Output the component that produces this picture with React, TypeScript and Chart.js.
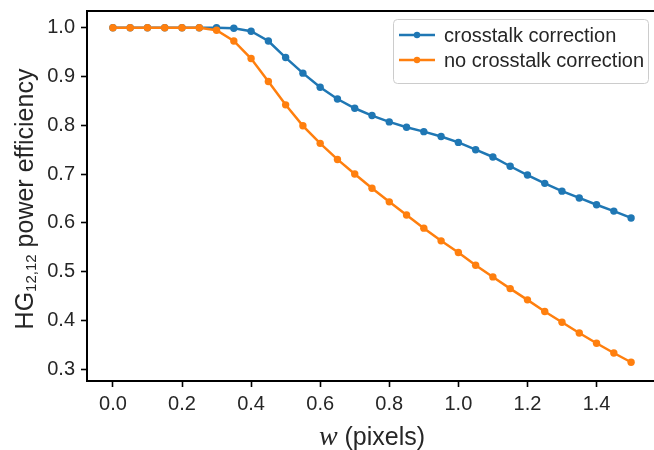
import React, { useEffect, useRef } from "react";
import { Chart, registerables } from "chart.js";

Chart.register(...registerables);

const W_VALUES = [0, 0.05, 0.1, 0.15, 0.2, 0.25, 0.3, 0.35, 0.4, 0.45, 0.5, 0.55, 0.6, 0.65, 0.7, 0.75, 0.8, 0.85, 0.9, 0.95, 1.0, 1.05, 1.1, 1.15, 1.2, 1.25, 1.3, 1.35, 1.4, 1.45, 1.5];
const CROSSTALK_CORRECTION = [1.0, 1.0, 1.0, 1.0, 1.0, 1.0, 1.0, 0.999, 0.993, 0.973, 0.939, 0.907, 0.878, 0.854, 0.835, 0.82, 0.807, 0.796, 0.787, 0.777, 0.765, 0.75, 0.735, 0.716, 0.698, 0.681, 0.665, 0.651, 0.637, 0.624, 0.61];
const NO_CROSSTALK_CORRECTION = [1.0, 1.0, 1.0, 1.0, 1.0, 1.0, 0.995, 0.973, 0.937, 0.89, 0.842, 0.799, 0.763, 0.73, 0.7, 0.671, 0.643, 0.616, 0.589, 0.563, 0.539, 0.513, 0.489, 0.465, 0.442, 0.418, 0.396, 0.374, 0.353, 0.333, 0.314];
const SERIES_LABELS = ["crosstalk correction", "no crosstalk correction"];
const X_TICKS = [0.0, 0.2, 0.4, 0.6, 0.8, 1.0, 1.2, 1.4];
const Y_TICKS = [0.3, 0.4, 0.5, 0.6, 0.7, 0.8, 0.9, 1.0];

const BLUE = "#1f77b4";
const ORANGE = "#ff7f0e";
const TEXT = "#262626";
const SANS = '"Liberation Sans", Arial, sans-serif';
const TICK_SIZE = 20;
const LABEL_SIZE = 25;

const decor = {
  id: "decor",
  afterDraw(chart: any) {
    const { ctx, chartArea } = chart;
    const { left, right, top, bottom } = chartArea;
    ctx.save();
    // top & right spines
    ctx.strokeStyle = "#000";
    ctx.lineWidth = 2;
    ctx.beginPath();
    ctx.moveTo(left - 1, top);
    ctx.lineTo(right, top);
    ctx.lineTo(right, bottom);
    ctx.stroke();

    // y label
    ctx.fillStyle = TEXT;
    ctx.textBaseline = "alphabetic";
    const cy = (top + bottom) / 2 + 3;
    const mainFont = `${LABEL_SIZE}px ${SANS}`;
    const subFont = `${Math.round(LABEL_SIZE * 0.6)}px ${SANS}`;
    ctx.font = mainFont;
    const wHG = ctx.measureText("HG").width;
    const wRest = ctx.measureText(" power efficiency").width;
    ctx.font = subFont;
    const wSub = ctx.measureText("12,12").width;
    const total = wHG + wSub + wRest;
    ctx.translate(33, cy);
    ctx.rotate(-Math.PI / 2);
    let x0 = -total / 2;
    ctx.font = mainFont;
    ctx.textAlign = "left";
    ctx.fillText("HG", x0, 0);
    x0 += wHG;
    ctx.font = subFont;
    ctx.fillText("12,12", x0, 3);
    x0 += wSub;
    ctx.font = mainFont;
    ctx.fillText(" power efficiency", x0, 0);
    ctx.setTransform(1, 0, 0, 1, 0, 0);

    // x label
    const cx = (left + right) / 2;
    const italFont = `italic ${LABEL_SIZE + 3}px "Liberation Serif", "DejaVu Serif", serif`;
    ctx.font = italFont;
    const ww = ctx.measureText("w").width;
    ctx.font = mainFont;
    const wp = ctx.measureText(" (pixels)").width;
    const xs = cx - (ww + wp) / 2;
    const by = 445;
    ctx.font = italFont;
    ctx.fillText("w", xs, by);
    ctx.font = mainFont;
    ctx.fillText(" (pixels)", xs + ww, by);

    // legend
    const lx = 393, ly = 19, lw = 255, lh = 64;
    ctx.beginPath();
    (ctx as any).roundRect(lx + 0.5, ly + 0.5, lw, lh, 4);
    ctx.fillStyle = "rgba(255,255,255,0.8)";
    ctx.fill();
    ctx.strokeStyle = "#cccccc";
    ctx.lineWidth = 1;
    ctx.stroke();
    const colors = [BLUE, ORANGE];
    const rows = [35, 60];
    ctx.font = `${TICK_SIZE}px ${SANS}`;
    ctx.textBaseline = "middle";
    for (let i = 0; i < 2; i++) {
      const y = rows[i];
      ctx.strokeStyle = colors[i];
      ctx.lineWidth = 2.5;
      ctx.beginPath();
      ctx.moveTo(399, y);
      ctx.lineTo(435, y);
      ctx.stroke();
      ctx.fillStyle = colors[i];
      ctx.beginPath();
      ctx.arc(417, y, 3.2, 0, Math.PI * 2);
      ctx.fill();
      ctx.fillStyle = TEXT;
      ctx.fillText(SERIES_LABELS[i], 444, y + 1);
    }
    ctx.restore();
  },
};

export default function App() {
  const ref = useRef<HTMLCanvasElement>(null);
  useEffect(() => {
    const canvas = ref.current!;
    const axisCommon = {
      type: "linear" as const,
      grid: {
        display: true,
        drawOnChartArea: false,
        drawTicks: true,
        tickLength: 6,
        tickWidth: 1.6,
        tickColor: "#000",
      },
      border: { display: true, color: "#000", width: 2 },
    };
    const chart = new Chart(canvas, {
      type: "line",
      data: {
        datasets: [
          {
            label: SERIES_LABELS[0],
            data: W_VALUES.map((x, i) => ({ x, y: CROSSTALK_CORRECTION[i] })),
            borderColor: BLUE,
            backgroundColor: BLUE,
            borderWidth: 2.5,
            pointRadius: 3.7,
            pointBorderWidth: 0,
            pointBackgroundColor: BLUE,
            order: 1,
          },
          {
            label: SERIES_LABELS[1],
            data: W_VALUES.map((x, i) => ({ x, y: NO_CROSSTALK_CORRECTION[i] })),
            borderColor: ORANGE,
            backgroundColor: ORANGE,
            borderWidth: 2.5,
            pointRadius: 3.7,
            pointBorderWidth: 0,
            pointBackgroundColor: ORANGE,
            order: 0,
          },
        ],
      },
      options: {
        animation: false,
        responsive: false,
        maintainAspectRatio: false,
        devicePixelRatio: 1,
        layout: { padding: { left: 0, top: 11, right: 5, bottom: 0 } },
        plugins: { legend: { display: false }, tooltip: { enabled: false } },
        scales: {
          x: {
            ...axisCommon,
            min: -0.075,
            max: 1.575,
            afterBuildTicks: (s: any) => {
              s.ticks = X_TICKS.map((v) => ({ value: v }));
            },
            afterFit: (s: any) => {
              s.height = 69;
              s.paddingLeft = 0;
              s.paddingRight = 0;
            },
            ticks: {
              autoSkip: false,
              maxRotation: 0,
              color: TEXT,
              padding: 5,
              font: { size: TICK_SIZE, family: SANS },
              callback: (v: any) => Number(v).toFixed(1),
            },
          },
          y: {
            ...axisCommon,
            min: 0.2755,
            max: 1.0345,
            afterBuildTicks: (s: any) => {
              s.ticks = Y_TICKS.map((v) => ({ value: v }));
            },
            afterFit: (s: any) => {
              s.width = 87;
              s.paddingTop = 0;
              s.paddingBottom = 0;
            },
            ticks: {
              autoSkip: false,
              color: TEXT,
              padding: 6,
              font: { size: TICK_SIZE, family: SANS },
              callback: (v: any) => Number(v).toFixed(1),
            },
          },
        },
      },
      plugins: [decor],
    } as any);
    return () => chart.destroy();
  }, []);
  return (
    <div style={{ position: "fixed", left: 0, top: 0, width: 654, height: 450, overflow: "hidden", background: "#fff" }}>
      <canvas ref={ref} width={662} height={450} style={{ width: 662, height: 450, display: "block" }} />
    </div>
  );
}
